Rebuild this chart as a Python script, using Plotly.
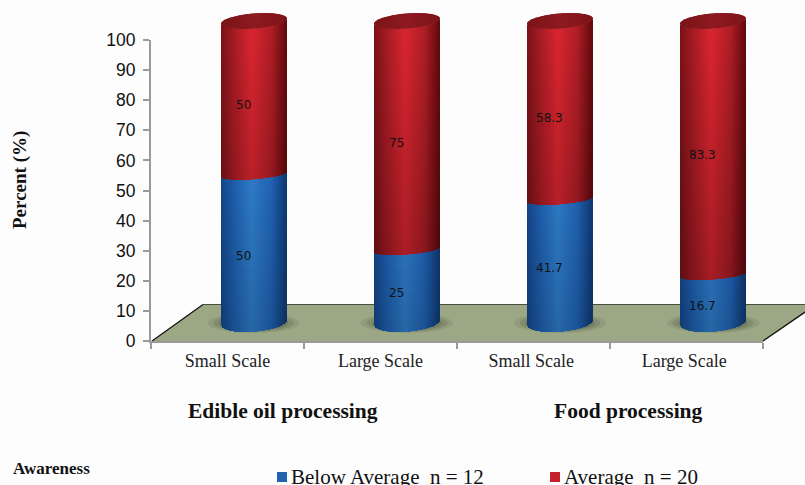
import numpy as np
import plotly.graph_objects as go

categories = ["Small Scale", "Large Scale", "Small Scale ", "Large Scale "]
below_average = [50, 25, 41.7, 16.7]
average = [50, 75, 58.3, 83.3]
group_labels = ["Edible oil processing", "Food processing"]
legend_labels = ["Below Average  n = 12", "Average  n = 20"]

W, H = 805, 485
LEFT, AXIS_W = 151, 612
AXIS_BOTTOM, AXIS_H = 341, 301
BAR_BOTTOM = 322
PX_PER_UNIT = AXIS_H / 100
CAT_W = AXIS_W / 4
BAR_W = 65 / CAT_W
DEPTH = 26.4 / CAT_W
STRIPS = 65
STRIP = BAR_W / STRIPS


def px_x(p):
    return (p - LEFT) / AXIS_W


def px_y(p):
    return (AXIS_BOTTOM - p) / AXIS_BOTTOM


def hex_rgb(c):
    return np.array([int(c[i:i + 2], 16) for i in (1, 3, 5)], float)


def shade(stops, u, factor):
    xs = [s[0] for s in stops]
    cols = np.array([hex_rgb(s[1]) for s in stops])
    rgb = [np.interp(u, xs, cols[:, i]) * factor for i in range(3)]
    return "rgb(%d,%d,%d)" % tuple(int(min(255, v)) for v in rgb)


RED = [(-1, "#7a1318"), (-0.6, "#a81c24"), (-0.05, "#dc2631"), (0.55, "#b01e26"), (1, "#640a0e")]
BLUE = [(-1, "#154688"), (-0.6, "#1e5fae"), (-0.05, "#2f7cc8"), (0.55, "#2063b4"), (1, "#103a74")]
CAP = [(-1, "#7a1418"), (0, "#8e1a20"), (1, "#7e1419")]

u_vals = (np.arange(STRIPS) + 0.5) / STRIPS * 2 - 1
arc = np.sqrt(1 - u_vals ** 2)
TILT = 2.5 / PX_PER_UNIT


def ring(level, u, a, depth_px, drop_px):
    return level + TILT * u - (drop_px + depth_px * a) / PX_PER_UNIT


def lower_edge(level, u, a):
    # The base of the cylinder bulges further than the seams between segments
    if level == 0:
        return ring(level, u, a, 9.5, 0)
    return ring(level, u, a, 5, 2.5)


def segment_bars(lows, highs, stops, factor_at):
    xs, bases, heights, offsets, colors = [], [], [], [], []
    for cat, lo, hi in zip(categories, lows, highs):
        bands = max(3, int(round((hi - lo) / 4)))
        for i, (u, a) in enumerate(zip(u_vals, arc)):
            bottom = lower_edge(lo, u, a)
            top = lower_edge(hi, u, a) if hi < 100 else ring(hi, u, a, 7.5, 0)
            # Paint the tallest band first so shorter ones nest over it without seams
            for k in range(bands, 0, -1):
                b1 = bottom + (top - bottom) * k / bands
                b_mid = bottom + (top - bottom) * (k - 0.5) / bands
                xs.append(cat)
                bases.append(bottom)
                heights.append(b1 - bottom)
                offsets.append(DEPTH - BAR_W / 2 + i * STRIP)
                colors.append(shade(stops, u, factor_at(b_mid)))
    return dict(x=xs, base=bases, y=heights, offset=offsets,
                width=[STRIP] * len(xs), marker=dict(color=colors, line=dict(width=0)))


fig = go.Figure()
# Keeps the tick axis alive: the cylinders themselves stand on the raised floor axis
fig.add_scatter(x=categories, y=[0] * 4, mode="none", hoverinfo="skip", showlegend=False)
fig.add_bar(name=legend_labels[0], yaxis="y2", hoverinfo="skip", showlegend=False,
            **segment_bars([0] * 4, below_average, BLUE, lambda v: 0.84 + 0.16 * min(v, 50) / 50))
fig.add_bar(name=legend_labels[1], yaxis="y2", hoverinfo="skip", showlegend=False,
            **segment_bars(below_average, [b + a for b, a in zip(below_average, average)], RED,
                           lambda v: 0.72 + 0.28 * v / 100))

# Top openings of the cylinders
cap_levels = [b + a for b, a in zip(below_average, average)]
cap_x, cap_base, cap_h, cap_off, cap_col = [], [], [], [], []
for cat, level in zip(categories, cap_levels):
    for i, (u, a) in enumerate(zip(u_vals, arc)):
        cap_x.append(cat)
        cap_base.append(ring(level, u, a, 7.5, 0))
        cap_h.append(2 * 7.5 * a / PX_PER_UNIT)
        cap_off.append(DEPTH - BAR_W / 2 + i * STRIP)
        cap_col.append(shade(CAP, u, 1))
fig.add_bar(x=cap_x, base=cap_base, y=cap_h, offset=cap_off, width=[STRIP] * len(cap_x),
            marker=dict(color=cap_col, line=dict(width=0)), yaxis="y2",
            hoverinfo="skip", showlegend=False)

shapes = []
# Floor of the chart
floor = [(152, 341), (203, 304.5), (816, 304.5), (763, 341)]
path = "M " + " L ".join(f"{px_x(x):.4f},{px_y(y):.4f}" for x, y in floor) + " Z"
shapes.append(dict(type="path", path=path, xref="paper", yref="paper", layer="below",
                   fillcolor="#9ba785", line=dict(width=0)))
for (x0, y0), (x1, y1), col, w in [
    (floor[0], floor[1], "#111111", 1.2),
    (floor[1], floor[2], "#4a4f40", 1),
    (floor[2], floor[3], "#111111", 1.4),
]:
    shapes.append(dict(type="line", xref="paper", yref="paper", layer="below",
                       x0=px_x(x0), y0=px_y(y0), x1=px_x(x1), y1=px_y(y1),
                       line=dict(color=col, width=w)))
# Soft shadow around each cylinder foot
for centre in [253.5, 407, 560, 713]:
    for grow, alpha in [(1.0, 0.10), (0.88, 0.14), (0.76, 0.18), (0.64, 0.22)]:
        rx, ry = 46 * grow, 10 * grow
        shapes.append(dict(type="circle", xref="paper", yref="paper", layer="below",
                           x0=px_x(centre - rx), x1=px_x(centre + rx),
                           y0=px_y(323 + ry), y1=px_y(323 - ry),
                           fillcolor=f"rgba(45,50,35,{alpha})", line=dict(width=0)))
# Legend swatches
for x0, col in [(277, "#1f62ae"), (550, "#c4212c")]:
    shapes.append(dict(type="rect", xref="paper", yref="paper",
                       x0=px_x(x0), x1=px_x(x0 + 10), y0=px_y(482), y1=px_y(472),
                       fillcolor=col, line=dict(width=0)))

SERIF = "Liberation Serif"
annotations = []


def text_at(x, y, text, size, bold=False, anchor="left", rotate=0):
    annotations.append(dict(
        xref="paper", yref="paper", x=px_x(x), y=px_y(y), text=f"<b>{text}</b>" if bold else text,
        xanchor=anchor, yanchor="middle", showarrow=False, textangle=rotate,
        font=dict(family=SERIF, size=size, color="#111111")))


text_at(283, 411, group_labels[0], 21.5, True, "center")
text_at(628, 411, group_labels[1], 21.5, True, "center")
text_at(11, 468, "Awareness", 17, True)
text_at(289, 477, legend_labels[0], 21)
text_at(562, 477, legend_labels[1], 21)
text_at(20, 180, "Percent (%)", 19, True, "center", -90)

# Value labels sit on the centre of each segment
for cat, blue, red in zip(categories, below_average, average):
    for value, mid in [(blue, blue / 2), (red, blue + red / 2)]:
        annotations.append(dict(
            xref="x", yref="y2", x=cat, y=mid, text=str(value), showarrow=False,
            xshift=16, yshift=-9, font=dict(family="DejaVu Sans", size=12, color="#111111")))

fig.update_layout(
    width=W, height=H, autosize=False,
    margin=dict(l=LEFT, r=W - LEFT - AXIS_W, t=0, b=H - AXIS_BOTTOM, autoexpand=False),
    paper_bgcolor="#fdfdfe", plot_bgcolor="rgba(0,0,0,0)",
    barmode="overlay", shapes=shapes, annotations=annotations, showlegend=False,
    xaxis=dict(type="category", categoryorder="array", categoryarray=categories,
               range=[-0.5, 3.5], tickson="boundaries", ticks="outside", ticklen=6,
               tickcolor="#9a9a9a", tickwidth=1.5, showline=True, linecolor="#9a9a9a",
               linewidth=2, showgrid=False, zeroline=False, anchor="y", ticklabelstandoff=2,
               tickfont=dict(family=SERIF, size=18, color="#222222")),
    yaxis=dict(domain=[0, AXIS_H / AXIS_BOTTOM], range=[0, 100], tick0=0, dtick=10,
               ticks="outside", ticklen=6, tickcolor="#9a9a9a", tickwidth=1.5, showline=True,
               linecolor="#9a9a9a", linewidth=2, showgrid=False, zeroline=False,
               ticklabelstandoff=4,
               tickfont=dict(family="Liberation Sans", size=17.5, color="#111111")),
    yaxis2=dict(domain=[0, 1],
                range=[-(AXIS_BOTTOM - BAR_BOTTOM) / PX_PER_UNIT, BAR_BOTTOM / PX_PER_UNIT],
                visible=False, anchor="x"),
)

fig.write_html("out.html")
